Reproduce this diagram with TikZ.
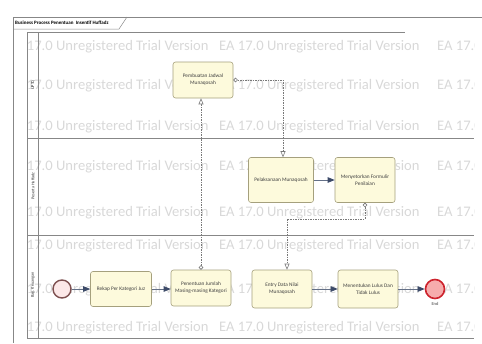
\documentclass[tikz,border=0pt]{standalone}
\usepackage{fontspec}
\setmainfont{Carlito}
\usetikzlibrary{arrows.meta}

\definecolor{taskfill}{RGB}{253,250,220}
\definecolor{taskline}{RGB}{165,160,125}
\definecolor{flowline}{RGB}{100,112,135}
\definecolor{flowhead}{RGB}{60,74,104}
\definecolor{framegray}{RGB}{135,135,135}
\definecolor{msggray}{RGB}{120,120,120}
\definecolor{endred}{RGB}{205,35,45}
\definecolor{endfill}{RGB}{246,172,172}
\definecolor{startline}{RGB}{125,80,80}
\definecolor{startfill}{RGB}{252,232,232}
\definecolor{trialgray}{RGB}{216,216,216}

\tikzset{
        task/.style={draw=taskline, fill=taskfill, rounded corners=2.5pt, line width=0.6pt,
                minimum width=60pt, minimum height=36pt, inner sep=1pt, align=center,
                font=\fontsize{5.3}{7}\selectfont, text=black!75},
        seqflow/.style={draw=flowline, line width=0.8pt,
                -{Triangle[length=7pt,width=5.5pt,fill=flowhead,color=flowhead]}},
        msgflow/.style={draw=msggray, line width=0.6pt, dash pattern=on 1.5pt off 1pt,
                {Circle[open,length=4.5pt,fill=white,color=msggray]}-{Triangle[open,length=6pt,width=5pt,fill=white,color=msggray]}},
        lanelabel/.style={rotate=90, font=\fontsize{4.2}{5}\selectfont, text=black!80},
        trial/.style={anchor=west, inner sep=0pt, text=trialgray, font=\fontsize{14.6}{15}\selectfont}
}

\begin{document}
\begin{tikzpicture}[x=1pt,y=-1pt]
        \useasboundingbox (0,0) rectangle (482,343);
        % watermark
        \begin{scope}
                \clip (27,17) rectangle (474,343);
                \foreach \y in {47,86,127,167,213,246,290,328}
                        \foreach \x in {8,219,437}
                                \node[trial] at (\x,\y) {EA 17.0 Unregistered Trial Version};
        \end{scope}
        % frame and title tab
        \draw[framegray, line width=0.6pt] (482,17) -- (13,17) -- (13,343);
        \draw[framegray, line width=0.5pt] (13,29) -- (119,29) -- (127,17);
        \node[anchor=west, inner sep=0pt, font=\fontsize{5}{6}\selectfont\bfseries] at (15,23) {Business Process Penentuan\ \ Insentif Huffadz};
        % pool and lanes
        \draw[framegray, line width=0.6pt] (27,32) -- (405,32);
        \draw[framegray, line width=0.6pt] (27,32) -- (27,338) -- (474,338);
        \draw[framegray, line width=0.6pt] (38,32) -- (38,338);
        \draw[framegray, line width=0.6pt] (27,138) -- (474,138);
        \draw[framegray, line width=0.6pt] (27,235) -- (474,235);
        \node[lanelabel] (uptq) at (33,85) {UPTQ};
        \node[lanelabel] (peserta) at (33,186) {Peserta Huffadz};
        \node[lanelabel] (bagian) at (33,285) {Bag. Keuangan};

        % tasks
        \node[task] (jadwal) at (203,80) {Pembuatan Jadwal\\Munaqosah};
        \node[task, minimum width=65pt, minimum height=45pt] (laks) at (281,180) {Pelaksanaan Munaqosah};
        \node[task, minimum height=45pt] (setor) at (365,180) {Menyetorkan Formulir\\Penilaian};
        \node[task, minimum width=61pt, minimum height=35pt] (rekap) at (121,289) {Rekap Per Kategori Juz};
        \node[task, minimum height=36pt] (tentu) at (201,288) {Penentuan Jumlah\\Masing-masing Kategori};
        \node[task, minimum height=38pt] (entry) at (282,289) {Entry Data Nilai\\Munaqosah};
        \node[task, minimum height=38pt] (lulus) at (368,289) {Menentukan Lulus Dan\\Tidak Lulus};
        \node[circle, draw=startline, fill=startfill, line width=1.4pt, minimum size=18pt, inner sep=0pt] (start) at (62,289) {};
        \node[circle, draw=endred, fill=endfill, line width=1.6pt, minimum size=19pt, inner sep=0pt] (end) at (435,289) {};
        \node[font=\fontsize{4.5}{5}\selectfont, text=black!75, below=0pt] (endlabel) at (end.south) {End};

        % sequence flows
        \draw[seqflow] (start) -- (rekap);
        \draw[seqflow] (rekap) -- (rekap -| tentu.west);
        \draw[seqflow] (entry) -- (lulus);
        \draw[seqflow] (lulus) -- (end);
        \draw[seqflow] (laks) -- (setor);

        % message flows
        \draw[msgflow] (tentu.north) -- (tentu.north |- jadwal.south);
        \draw[msgflow] (jadwal.east) -| ([xshift=2pt]laks.north);
        \draw[msgflow] (setor.south) -- ++(0,16) -| ([xshift=5pt]entry.north);
\end{tikzpicture}
\end{document}
